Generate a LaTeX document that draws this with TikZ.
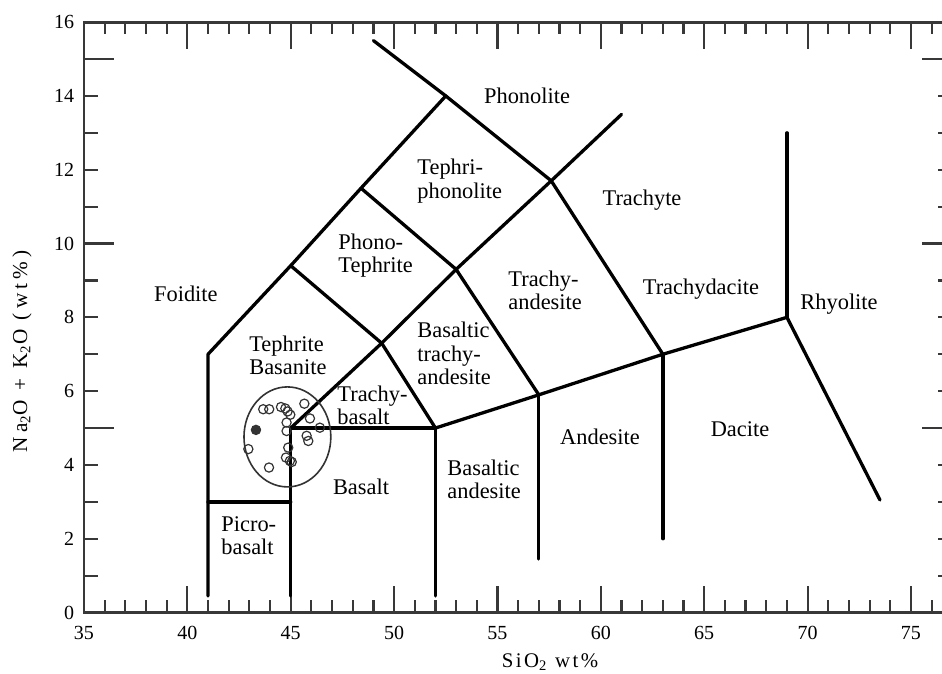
\documentclass[tikz,border=0pt]{standalone}
\usepackage{fontspec}
\setmainfont{Liberation Serif}
\newfontfamily\spacedfont[LetterSpace=12]{Liberation Serif}
\newfontfamily\widefont[LetterSpace=20]{Liberation Serif}
\usetikzlibrary{positioning}

\begin{document}
\begin{tikzpicture}[x=10.3375pt, y=18.45pt,
    axis/.style={draw=black!78, line width=1.4pt},
    tick/.style={draw=black!78, line width=1.1pt},
    bound/.style={line width=1.65pt, line join=round, line cap=round},
    field/.style={font=\fontsize{11.2}{11.6}\selectfont, align=left, inner sep=0pt},
    num/.style={font=\fontsize{10}{12}\selectfont, inner sep=0pt},
    title/.style={font=\fontsize{10.4}{12}\spacedfont, inner sep=0pt},
    sample/.style={circle, draw=black!80, line width=0.6pt, inner sep=0pt, minimum size=4.6pt}]

    \useasboundingbox (30.94,-1.645) rectangle (76.5,16.6);

    % frame and ticks
    \draw[axis] (35,0) rectangle (77,16);
    \foreach \i in {36,...,76} {
        \draw[tick] (\i,0) -- ++(0,0.33);
        \draw[tick] (\i,16) -- ++(0,-0.33);
    }
    \foreach \i in {40,45,...,75} {
        \draw[tick] (\i,0) -- ++(0,0.73);
        \draw[tick] (\i,16) -- ++(0,-0.73);
    }
    \foreach \j in {1,...,15} {
        \draw[tick] (35,\j) -- ++(0.68,0);
        \draw[tick] (77,\j) -- ++(-0.68,0);
    }
    \foreach \j in {5,10,15} {
        \draw[tick] (35,\j) -- ++(1.45,0);
        \draw[tick] (77,\j) -- ++(-1.45,0);
    }
    \foreach \v in {0,2,...,16}
        \node[num, anchor=east] at (34.55,\v) {\v};
    \foreach \v in {35,40,...,75}
        \node[num] at (\v,-0.55) {\v};

    \node[title] (xlabel) at (57.54,-1.35) {SiO\textsubscript{2} wt\%};
    \node[title, font=\fontsize{10.6}{12}\widefont, rotate=90] (ylabel) at (32.0,7.08) {Na\textsubscript{2}O + K\textsubscript{2}O (wt\%)};

    % field corners
    \coordinate (F0) at (41,0.45);
    \coordinate (F1) at (41,7);
    \coordinate (U1) at (45,9.4);
    \coordinate (U2) at (48.4,11.5);
    \coordinate (U3) at (52.5,14);
    \coordinate (U4) at (49,15.5);
    \coordinate (P0) at (41,3);
    \coordinate (P1) at (45,3);
    \coordinate (B0) at (45,0.45);
    \coordinate (B1) at (45,5);
    \coordinate (B2) at (52,5);
    \coordinate (B3) at (52,0.45);
    \coordinate (D1) at (49.4,7.3);
    \coordinate (D2) at (53,9.3);
    \coordinate (D3) at (57.6,11.7);
    \coordinate (D4) at (61,13.5);
    \coordinate (A1) at (57,5.9);
    \coordinate (A0) at (57,1.45);
    \coordinate (C1) at (63,7);
    \coordinate (C0) at (63,2);
    \coordinate (R1) at (69,8);
    \coordinate (R2) at (69,13);
    \coordinate (R0) at (73.5,3.05);

    \draw[bound] (F0) -- (F1) -- (U1) -- (U2) -- (U3) -- (U4);
    \draw[bound] (P0) -- (P1);
    \draw[bound] (B0) -- (B1) -- (B2) -- (B3);
    \draw[bound] (B1) -- (D1) -- (D2) -- (D3) -- (D4);
    \draw[bound] (U1) -- (D1) -- (B2);
    \draw[bound] (U2) -- (D2) -- (A1);
    \draw[bound] (U3) -- (D3) -- (C1);
    \draw[bound] (B2) -- (A1) -- (C1) -- (R1) -- (R0);
    \draw[bound] (A1) -- (A0);
    \draw[bound] (C1) -- (C0);
    \draw[bound] (R1) -- (R2);

    % field names
    \node[field] (phonolite) at (56.43,13.99) {Phonolite};
    \node[field, anchor=west] (tephriphon) at (51.11,11.69) {Tephri-\\phonolite};
    \node[field] (trachyte) at (61.99,11.17) {Trachyte};
    \node[field, anchor=west] (phonoteph) at (47.29,9.68) {Phono-\\Tephrite};
    \node[field] (foidite) at (39.93,8.63) {Foidite};
    \node[field, anchor=west] (tephbas) at (42.98,6.97) {Tephrite\\Basanite};
    \node[field, anchor=west] (trachybas) at (47.24,5.62) {Trachy-\\basalt};
    \node[field, anchor=west] (bta) at (51.11,7.02) {Basaltic\\trachy-\\andesite};
    \node[field, anchor=west] (trachyand) at (55.51,8.73) {Trachy-\\andesite};
    \node[field] (trachydac) at (64.84,8.76) {Trachydacite};
    \node[field] (rhyolite) at (71.52,8.36) {Rhyolite};
    \node[field] (andesite) at (59.96,4.75) {Andesite};
    \node[field] (dacite) at (66.73,4.97) {Dacite};
    \node[field] (basalt) at (48.40,3.42) {Basalt};
    \node[field, anchor=west] (basand) at (52.56,3.60) {Basaltic\\andesite};
    \node[field, anchor=west] (picro) at (41.63,2.09) {Picro-\\basalt};

    % samples
    \draw[draw=black!80, line width=0.8pt] (44.84,4.76) ellipse [x radius=2.1, y radius=1.355];
    \foreach \p in {(43.67,5.51),(43.96,5.51),(44.53,5.57),(44.74,5.53),(44.85,5.45),
                    (44.98,5.36),(45.66,5.66),(42.95,4.43),(43.95,3.93),(44.80,5.15),
                    (44.80,4.92),(45.93,5.26),(46.41,5.01),(45.77,4.79),(45.85,4.65),
                    (44.88,4.47),(44.77,4.20),(44.96,4.11),(45.05,4.08)}
        \node[sample] at \p {};
    \node[sample, fill=black!80] (dot) at (43.32,4.95) {};

\end{tikzpicture}
\end{document}
